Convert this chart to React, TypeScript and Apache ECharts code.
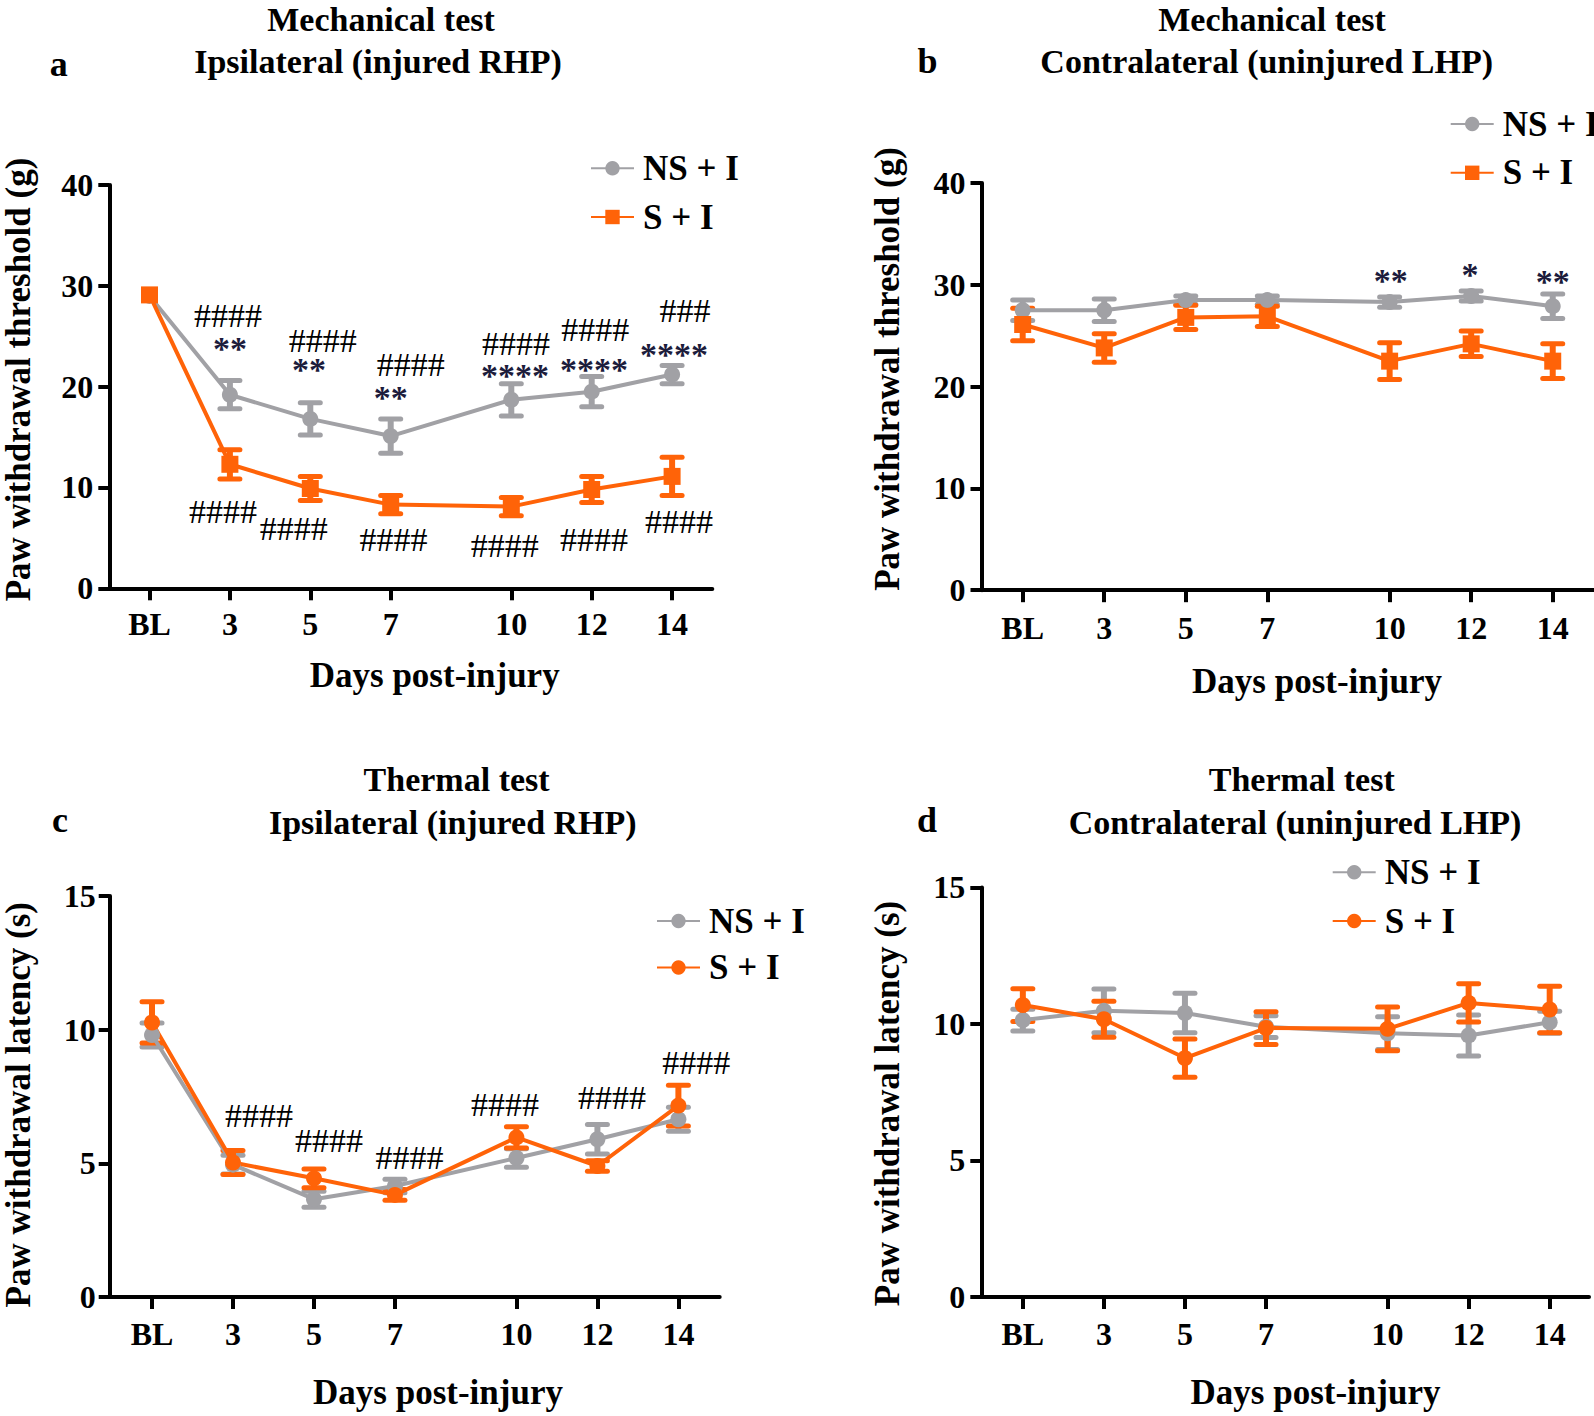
import React, { useEffect, useRef } from 'react';
import * as echarts from 'echarts';

// ---------- data ----------
const DAYS = [1, 3, 5, 7, 10, 12, 14];
const DAY_LABELS = ['BL', '3', '5', '7', '10', '12', '14'];
const SERIES_NAMES = ['NS + I', 'S + I'];

// a: Mechanical, ipsilateral
const A_NS_MEAN = [29.0, 19.2, 16.8, 15.1, 18.7, 19.5, 21.2];
const A_NS_SEM = [0, 1.4, 1.6, 1.7, 1.6, 1.5, 0.9];
const A_S_MEAN = [29.1, 12.3, 9.9, 8.3, 8.1, 9.8, 11.1];
const A_S_SEM = [0, 1.45, 1.2, 0.9, 0.9, 1.3, 1.9];
// b: Mechanical, contralateral
const B_NS_MEAN = [27.5, 27.5, 28.5, 28.5, 28.3, 28.9, 27.9];
const B_NS_SEM = [1.0, 1.1, 0.4, 0.4, 0.5, 0.5, 1.2];
const B_S_MEAN = [26.1, 23.8, 26.8, 26.9, 22.5, 24.2, 22.5];
const B_S_SEM = [1.6, 1.4, 1.2, 1.0, 1.8, 1.25, 1.7];
// c: Thermal, ipsilateral
const C_NS_MEAN = [9.8, 4.95, 3.66, 4.15, 5.2, 5.9, 6.65];
const C_NS_SEM = [0.45, 0.35, 0.3, 0.25, 0.35, 0.55, 0.45];
const C_S_MEAN = [10.27, 5.03, 4.44, 3.82, 5.97, 4.9, 7.16];
const C_S_SEM = [0.77, 0.45, 0.35, 0.2, 0.4, 0.2, 0.76];
// d: Thermal, contralateral
const D_NS_MEAN = [10.14, 10.48, 10.4, 9.9, 9.66, 9.58, 10.06];
const D_NS_SEM = [0.4, 0.8, 0.72, 0.4, 0.6, 0.75, 0.4];
const D_S_MEAN = [10.69, 10.17, 8.75, 9.85, 9.82, 10.77, 10.53];
const D_S_SEM = [0.6, 0.66, 0.7, 0.6, 0.8, 0.7, 0.85];

// significance marks: [day, value] and text
const A_HASH_UP_POS = [[2.95, 27.1], [5.31, 24.6], [7.5, 22.2], [10.12, 24.3], [12.09, 25.7], [14.32, 27.6]];
const A_HASH_UP_TXT = ['####', '####', '####', '####', '####', '###'];
const A_STAR_POS = [[3.0, 23.75], [4.97, 21.75], [7.0, 18.95], [10.09, 21.15], [12.06, 21.75], [14.05, 23.15]];
const A_STAR_TXT = ['**', '**', '**', '****', '****', '****'];
const A_HASH_LO_POS = [[2.83, 7.66], [4.59, 5.9], [7.07, 4.87], [9.84, 4.25], [12.06, 4.87], [14.17, 6.6]];
const A_HASH_LO_TXT = ['####', '####', '####', '####', '####', '####'];
const B_STAR_POS = [[10.03, 30.45], [11.97, 31.05], [14.0, 30.35]];
const B_STAR_TXT = ['**', '*', '**'];
const C_HASH_POS = [[3.64, 6.8], [5.37, 5.87], [7.36, 5.23], [9.72, 7.21], [12.36, 7.45], [14.44, 8.77]];
const C_HASH_TXT = ['####', '####', '####', '####', '####', '####'];

const TITLES_1 = ['Mechanical test', 'Mechanical test', 'Thermal test', 'Thermal test'];
const TITLES_2 = ['Ipsilateral (injured RHP)', 'Contralateral (uninjured LHP)', 'Ipsilateral (injured RHP)', 'Contralateral (uninjured LHP)'];
const LETTERS = ['a', 'b', 'c', 'd'];
const X_NAME = 'Days post-injury';
const Y_NAMES = ['Paw withdrawal threshold (g)', 'Paw withdrawal threshold (g)', 'Paw withdrawal latency (s)', 'Paw withdrawal latency (s)'];

// ---------- style / layout ----------
const GRAY = '#a1a1a5';
const ORANGE = '#ff6308';
const STAR = '#1c1c3c';
const FONT = '"Liberation Serif", "Times New Roman", serif';

const PANELS = [
  {
    grid: { left: 109.3, top: 185, width: 603, height: 403.3 }, xMin: 0, xMax: 15, yMax: 40, yInt: 10,
    ns: [A_NS_MEAN, A_NS_SEM], s: [A_S_MEAN, A_S_SEM], sSymbol: 'rect', sSize: 17,
    xLabelMargin: 20, yLabelMargin: 16,
    legend: { left: 590, top: 150.8, gap: 13.7 },
    notes: [[A_HASH_UP_POS, A_HASH_UP_TXT, '#000', 'normal'], [A_STAR_POS, A_STAR_TXT, STAR, 'bold'], [A_HASH_LO_POS, A_HASH_LO_TXT, '#000', 'normal']],
    t1: [381, 19.8], t2: [378, 61.3], letter: [58.7, 64.4], xName: [434.7, 675.7], yName: [18.8, 379.5],
  },
  {
    grid: { left: 981.5, top: 183, width: 612, height: 407.2 }, xMin: -0.01, xMax: 15, yMax: 40, yInt: 10,
    ns: [B_NS_MEAN, B_NS_SEM], s: [B_S_MEAN, B_S_SEM], sSymbol: 'rect', sSize: 17,
    xLabelMargin: 22, yLabelMargin: 16,
    legend: { left: 1449.7, top: 106.5, gap: 13.8 },
    notes: [[B_STAR_POS, B_STAR_TXT, STAR, 'bold']],
    t1: [1272, 19.8], t2: [1266.7, 61.3], letter: [927.6, 61.3], xName: [1317, 681], yName: [887, 369],
  },
  {
    grid: { left: 109.7, top: 896, width: 610, height: 401 }, xMin: -0.045, xMax: 15.02, yMax: 15, yInt: 5,
    ns: [C_NS_MEAN, C_NS_SEM], s: [C_S_MEAN, C_S_SEM], sSymbol: 'circle', sSize: 16,
    xLabelMargin: 21, yLabelMargin: 14,
    legend: { left: 656, top: 903.5, gap: 11.5 },
    notes: [[C_HASH_POS, C_HASH_TXT, '#000', 'normal']],
    t1: [456.6, 779.4], t2: [452.8, 822.5], letter: [60, 820], xName: [438, 1392], yName: [18.8, 1104.7],
  },
  {
    grid: { left: 981.3, top: 887.4, width: 607.7, height: 409.6 }, xMin: -0.025, xMax: 14.97, yMax: 15, yInt: 5,
    ns: [D_NS_MEAN, D_NS_SEM], s: [D_S_MEAN, D_S_SEM], sSymbol: 'circle', sSize: 16,
    xLabelMargin: 21, yLabelMargin: 16,
    legend: { left: 1331.7, top: 854.7, gap: 13.8 },
    notes: [],
    t1: [1301.7, 779.4], t2: [1295, 822.5], letter: [927, 820], xName: [1315.5, 1392], yName: [887, 1103.5],
  },
];

function errorBarSeries(i: number, mean: number[], sem: number[], color: string) {
  return {
    type: 'custom',
    xAxisIndex: i,
    yAxisIndex: i,
    silent: true,
    encode: { x: 0, y: 1 },
    data: DAYS.map((d, k) => [d, mean[k], sem[k]]),
    renderItem: (params: any, api: any) => {
      const x = api.value(0);
      const m = api.value(1);
      const e = api.value(2);
      if (!(e > 0)) return null;
      const hi = api.coord([x, m + e]);
      const lo = api.coord([x, m - e]);
      const hw = 10;
      return {
        type: 'group',
        children: [
          { type: 'line', shape: { x1: hi[0], y1: hi[1], x2: lo[0], y2: lo[1] }, style: { stroke: color, lineWidth: 6 } },
          { type: 'line', shape: { x1: hi[0] - hw, y1: hi[1], x2: hi[0] + hw, y2: hi[1] }, style: { stroke: color, lineWidth: 5, lineCap: 'round' } },
          { type: 'line', shape: { x1: lo[0] - hw, y1: lo[1], x2: lo[0] + hw, y2: lo[1] }, style: { stroke: color, lineWidth: 5, lineCap: 'round' } },
        ],
      };
    },
  };
}

function noteSeries(i: number, pos: number[][], txt: string[], color: string, weight: string) {
  return {
    type: 'custom',
    xAxisIndex: i,
    yAxisIndex: i,
    silent: true,
    encode: { x: 0, y: 1 },
    data: pos,
    z: 5,
    renderItem: (params: any, api: any) => {
      const p = api.coord([api.value(0), api.value(1)]);
      return {
        type: 'text',
        style: {
          text: txt[params.dataIndex],
          x: p[0],
          y: p[1],
          align: 'center',
          verticalAlign: 'middle',
          font: `${weight} 34px ${FONT}`,
          lineHeight: 20,
          fill: color,
        },
      };
    },
  };
}

function lineSeries(i: number, name: string, mean: number[], color: string, symbol: string, size: number) {
  return {
    type: 'line',
    name,
    xAxisIndex: i,
    yAxisIndex: i,
    silent: true,
    data: DAYS.map((d, k) => [d, mean[k]]),
    symbol,
    symbolSize: size,
    showSymbol: true,
    lineStyle: { color, width: 4 },
    itemStyle: { color, borderWidth: 0 },
    z: 3,
  };
}

function txt(x: number, y: number, text: string, size: number, rotation = 0) {
  return {
    type: 'text',
    x,
    y,
    rotation,
    silent: true,
    style: {
      text,
      align: 'center',
      verticalAlign: 'middle',
      font: `bold ${size}px ${FONT}`,
      fill: '#000',
    },
  };
}

export default function App() {
  const ref = useRef<HTMLDivElement>(null);
  useEffect(() => {
    document.body.style.margin = '0';
    if (!ref.current) return;
    const chart = echarts.init(ref.current, undefined, { renderer: 'svg' });

    const axisLineStyle = { color: '#000', width: 4 };
    const labelStyle = { color: '#000', fontFamily: FONT, fontSize: 32, fontWeight: 'bold' as const };

    const grids = PANELS.map((p) => ({ ...p.grid, containLabel: false }));
    const xAxes = PANELS.map((p, i) => ({
      type: 'value',
      gridIndex: i,
      min: p.xMin,
      max: p.xMax,
      axisLine: { show: true, onZero: false, lineStyle: axisLineStyle },
      axisTick: { show: true, length: 12, lineStyle: axisLineStyle, customValues: DAYS },
      axisLabel: {
        ...labelStyle,
        margin: p.xLabelMargin,
        customValues: DAYS,
        formatter: (v: number) => DAY_LABELS[DAYS.indexOf(v)] ?? '',
      },
      splitLine: { show: false },
    }));
    const yAxes = PANELS.map((p, i) => ({
      type: 'value',
      gridIndex: i,
      min: 0,
      max: p.yMax,
      interval: p.yInt,
      axisLine: { show: true, onZero: false, lineStyle: axisLineStyle },
      axisTick: { show: true, length: 11, lineStyle: axisLineStyle },
      axisLabel: { ...labelStyle, margin: p.yLabelMargin },
      splitLine: { show: false },
    }));

    const series: any[] = [];
    const legends: any[] = [];
    const graphics: any[] = [];
    PANELS.forEach((p, i) => {
      const nsName = `${LETTERS[i]}|${SERIES_NAMES[0]}`;
      const sName = `${LETTERS[i]}|${SERIES_NAMES[1]}`;
      series.push(errorBarSeries(i, p.ns[0], p.ns[1], GRAY));
      series.push(lineSeries(i, nsName, p.ns[0], GRAY, 'circle', 16));
      series.push(errorBarSeries(i, p.s[0], p.s[1], ORANGE));
      series.push(lineSeries(i, sName, p.s[0], ORANGE, p.sSymbol, p.sSize));
      p.notes.forEach((n: any) => series.push(noteSeries(i, n[0], n[1], n[2], n[3])));

      legends.push({
        orient: 'vertical',
        left: p.legend.left,
        top: p.legend.top,
        itemGap: p.legend.gap,
        padding: 0,
        itemWidth: 43,
        itemHeight: 18,
        selectedMode: false,
        data: [nsName, sName],
        formatter: (n: string) => n.split('|')[1],
        textStyle: { color: '#000', fontFamily: FONT, fontSize: 35, fontWeight: 'bold', lineHeight: 35, padding: [0, 0, 0, 4] },
      });

      graphics.push(txt(p.t1[0], p.t1[1], TITLES_1[i], 34));
      graphics.push(txt(p.t2[0], p.t2[1], TITLES_2[i], 34));
      graphics.push(txt(p.letter[0], p.letter[1], LETTERS[i], 36));
      graphics.push(txt(p.xName[0], p.xName[1], X_NAME, 35));
      graphics.push(txt(p.yName[0], p.yName[1], Y_NAMES[i], 35, Math.PI / 2));
    });

    chart.setOption({
      animation: false,
      backgroundColor: '#fff',
      grid: grids,
      xAxis: xAxes,
      yAxis: yAxes,
      legend: legends,
      series,
      graphic: { elements: graphics },
    });
    return () => chart.dispose();
  }, []);
  return <div ref={ref} style={{ position: 'absolute', left: 0, top: 0, width: 1594, height: 1416 }} />;
}
